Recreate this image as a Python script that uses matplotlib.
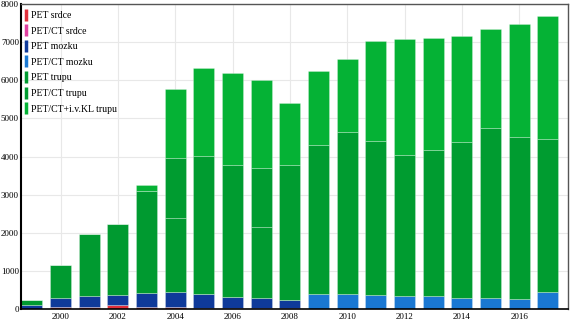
import matplotlib.pyplot as plt
from matplotlib.lines import Line2D
import numpy as np

plt.rcParams['font.family'] = ['Liberation Serif', 'DejaVu Serif']

years = list(range(1999, 2018))

pet_srdce = [10, 40, 40, 100, 60, 50, 20, 15, 10, 5, 0, 0, 0, 0, 0, 0, 0, 0, 0]
petct_srdce = [0, 0, 0, 0, 0, 0, 10, 10, 10, 10, 0, 0, 0, 0, 0, 0, 0, 0, 0]
pet_mozku = [90, 240, 310, 270, 370, 390, 370, 300, 260, 225, 0, 0, 0, 0, 0, 0, 0, 0, 0]
petct_mozku = [0, 0, 0, 0, 0, 0, 0, 0, 0, 0, 385, 400, 360, 340, 345, 300, 280, 250, 455]
pet_trupu = [130, 880, 1620, 1870, 2670, 1950, 0, 0, 1870, 0, 0, 0, 0, 0, 0, 0, 0, 0, 0]
petct_trupu = [0, 0, 0, 0, 0, 1580, 3620, 3465, 1550, 3540, 3925, 4240, 4040, 3690, 3815, 4090, 4470, 4260, 3995]
petct_kl_trupu = [0, 0, 0, 0, 140, 1810, 2300, 2390, 2310, 1620, 1930, 1930, 2630, 3050, 2940, 2760, 2590, 2960, 3230]

labels = ['PET srdce', 'PET/CT srdce', 'PET mozku', 'PET/CT mozku',
          'PET trupu', 'PET/CT trupu', 'PET/CT+i.v.KL trupu']
series = [pet_srdce, petct_srdce, pet_mozku, petct_mozku,
          pet_trupu, petct_trupu, petct_kl_trupu]
colors = ['#e0303c', '#e040a0', '#0f3a9a', '#1a78d2',
          '#009a30', '#009c30', '#05b235']

fig = plt.figure(figsize=(5.71, 3.25), dpi=100)
ax = fig.add_axes([21 / 571, 16 / 325, 547 / 571, 305 / 325])

bottom = np.zeros(len(years))
for vals, col in zip(series, colors):
    ax.bar(years, vals, width=0.73, bottom=bottom, color=col,
           edgecolor=(1, 1, 1, 0.35), linewidth=0.5)
    bottom += np.array(vals)

ax.set_xlim(1998.62, 2017.7)
ax.set_ylim(0, 8000)
ax.set_xticks(range(2000, 2017, 2))
ax.set_yticks(range(0, 8001, 1000))
ax.tick_params(length=0, labelsize=6.5)
ax.tick_params(axis='y', pad=1.5)
ax.tick_params(axis='x', pad=3)
ax.set_axisbelow(True)
ax.grid(color='#e8e8e8', linewidth=0.8)

ax.spines['left'].set_color('black')
ax.spines['left'].set_linewidth(1.5)
ax.spines['bottom'].set_color('black')
ax.spines['bottom'].set_linewidth(1.2)
for s in ['top', 'right']:
    ax.spines[s].set_color('#555555')
    ax.spines[s].set_linewidth(1.0)

handles = [Line2D([], [], linestyle='none', marker='|', markersize=9,
                  markeredgewidth=2.5, color=c) for c in colors]
ax.legend(handles, labels, loc='upper left', frameon=False, fontsize=7,
          handlelength=0.6, handletextpad=0.3, labelspacing=0.68,
          borderaxespad=0.0, bbox_to_anchor=(-0.004, 0.99))

fig.savefig('out.png', dpi=100)
